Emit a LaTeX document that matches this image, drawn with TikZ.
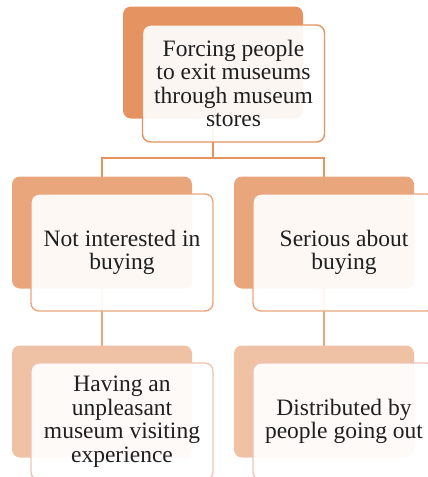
\documentclass[tikz,border=0pt]{standalone}
\usepackage{fontspec}
\setmainfont{Liberation Serif}
\usetikzlibrary{backgrounds}
\definecolor{oA}{RGB}{229,147,96}
\definecolor{oB}{RGB}{233,166,124}
\definecolor{oC}{RGB}{240,194,165}
\definecolor{eC}{RGB}{238,196,180}
\tikzset{
  backbox/.style={rounded corners=8pt, minimum width=180pt, minimum height=112pt, inner sep=0pt},
  frontbox/.style={rounded corners=8pt, minimum width=182pt, minimum height=117pt, inner sep=0pt,
     fill=white, fill opacity=0.92, text opacity=1, line width=1.4pt, align=center,
     font=\fontsize{23.5}{23.5}\selectfont, text=black!88},
  conn/.style={line width=1.1pt}
}
\begin{document}
\begin{tikzpicture}[x=1pt,y=1pt]
\clip (0,0) rectangle (428,-477);
\useasboundingbox (0,0) rectangle (428,-477);
% back boxes
\node[backbox, fill=oA] (tb) at (213,-62.5) {};
\node[backbox, fill=oB] (mlb) at (102,-232.5) {};
\node[backbox, fill=oB] (mrb) at (324,-232.5) {};
\node[backbox, fill=oC] (blb) at (102,-401.5) {};
\node[backbox, fill=oC] (brb) at (324,-401.5) {};
\coordinate (j) at (213,-158);
% connectors
\begin{scope}[on background layer]
\draw[conn, oA] (tb.center) -- (j) -| (mlb.center);
\draw[conn, oA] (j) -| (mrb.center);
\draw[conn, oB] (mlb.center) -- (blb.center);
\draw[conn, oB] (mrb.center) -- (brb.center);
\end{scope}
% front boxes
\node[frontbox, draw=oA] (tf) at (233.5,-83.5) {Forcing people\\to exit museums\\through museum\\stores};
\node[frontbox, draw=oB] (mlf) at (122,-252.5) {Not interested in\\buying};
\node[frontbox, draw=oB] (mrf) at (344,-252.5) {Serious about\\buying};
\node[frontbox, draw=eC] (blf) at (122,-421.5) {Having an\\unpleasant\\museum visiting\\experience};
\node[frontbox, draw=eC] (brf) at (344,-421.5) {Distributed by\\people going out};
\end{tikzpicture}
\end{document}
